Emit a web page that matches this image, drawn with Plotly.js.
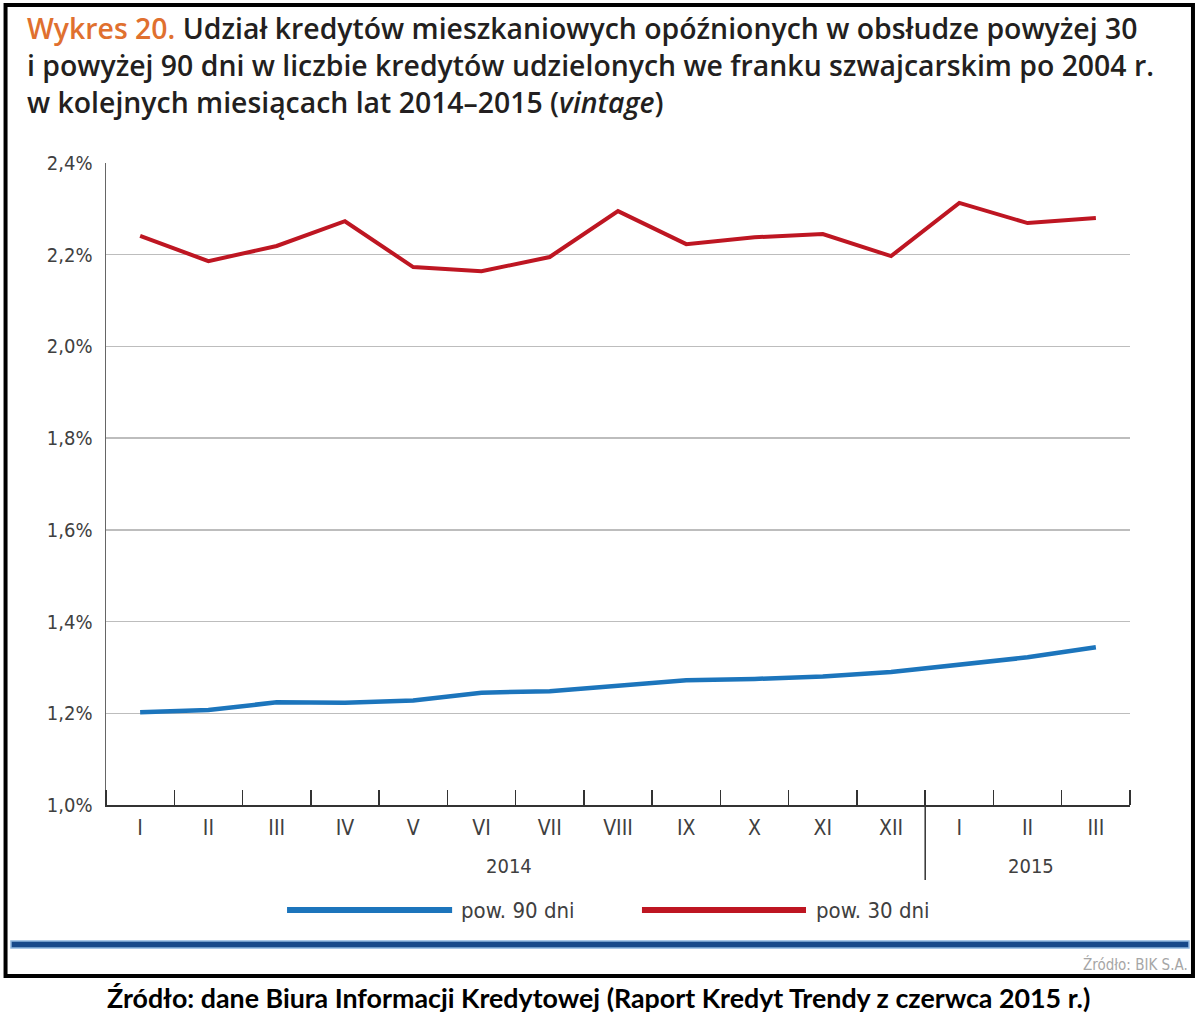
<!DOCTYPE html>
<html><head><meta charset="utf-8">
<script src="https://cdn.plot.ly/plotly-3.0.1.min.js"></script>
<style>html,body{margin:0;padding:0;background:#fff}</style>
</head><body><div id="chart" style="width:1200px;height:1014px"></div>
<script>
const months = ['I','II','III','IV','V','VI','VII','VIII','IX','X','XI','XII','I','II','III'];
const years = ['2014','2014','2014','2014','2014','2014','2014','2014','2014','2014','2014','2014','2015','2015','2015'];
const pow90 = [1.202,1.207,1.224,1.223,1.228,1.245,1.248,1.260,1.272,1.275,1.280,1.290,1.307,1.322,1.344];
const pow30 = [2.241,2.186,2.219,2.273,2.173,2.164,2.195,2.295,2.223,2.238,2.245,2.197,2.313,2.269,2.280];
const yTickVals = [1.0,1.2,1.4,1.6,1.8,2.0,2.2,2.4];
const yTickText = ['1,0%','1,2%','1,4%','1,6%','1,8%','2,0%','2,2%','2,4%'];
const seriesNames = ['pow. 90 dni','pow. 30 dni'];
const seriesColors = ['#1c75bc','#be1622'];

const idx = months.map((m,i)=>i);
const yearGroups = [...new Set(years)].map(y=>{
  const ii = idx.filter(i=>years[i]===y);
  return {year:y, first:ii[0], last:ii[ii.length-1]};
});

const NARROW = '"Liberation Sans Narrow","Arial Narrow","DejaVu Sans Condensed",sans-serif';

const traces = [
  {x: idx, y: pow90, name: seriesNames[0], type:'scatter', mode:'lines',
   line:{color:seriesColors[0], width:4.5, shape:'linear'}, hoverinfo:'y'},
  {x: idx, y: pow30, name: seriesNames[1], type:'scatter', mode:'lines',
   line:{color:seriesColors[1], width:4, shape:'linear'}, hoverinfo:'y'}
];

const shapes = [];
const annotations = [];

for (let g=1; g<yearGroups.length; g++){
  shapes.push({type:'line', xref:'x', yref:'paper', x0:yearGroups[g].first-0.5, x1:yearGroups[g].first-0.5,
    y0:-0.117, y1:0.0234, line:{color:'#333', width:1.5}});
}
const yearLabelX = [5.4, 13.05];
yearGroups.forEach((g,k)=>{
  annotations.push({xref:'x', yref:'paper', x:yearLabelX[k], y:-0.095, text:g.year, showarrow:false,
    xanchor:'center', yanchor:'middle', font:{family:NARROW, size:20, color:'#404040'}});
});
const legX = [[0.1768,0.338,0.345],[0.5234,0.6836,0.691]];
seriesNames.forEach((n,k)=>{
  shapes.push({type:'line', xref:'paper', yref:'paper', x0:legX[k][0], x1:legX[k][1], y0:-0.1636, y1:-0.1636,
    line:{color:seriesColors[k], width:6}});
  annotations.push({xref:'paper', yref:'paper', x:legX[k][2], y:-0.1636, text:n, showarrow:false,
    xanchor:'left', yanchor:'middle', font:{family:NARROW, size:22, color:'#404040'}});
});
shapes.push({type:'rect', xref:'paper', yref:'paper', x0:-0.0928, x1:1.0576, y0:-0.2227, y1:-0.2118,
  fillcolor:'#17498a', line:{color:'#8fb6de', width:1.5}});
shapes.push({type:'rect', xref:'paper', yref:'paper', x0:-0.0981, x1:1.0615, y0:-0.2664, y1:1.2461,
  fillcolor:'rgba(0,0,0,0)', line:{color:'#000', width:4}});
annotations.push({xref:'paper', yref:'paper', x:1.0586, y:-0.2477, text:'Źródło: BIK S.A.', showarrow:false,
  xanchor:'right', yanchor:'middle', font:{family:NARROW, size:15, color:'#a6a6a6'}});
annotations.push({xref:'paper', yref:'paper', x:0.4805, y:-0.3006,
  text:'<b>Źródło: dane Biura Informacji Kredytowej (Raport Kredyt Trendy z czerwca 2015 r.)</b>', showarrow:false,
  xanchor:'center', yanchor:'middle', font:{family:'Lato, "Open Sans", sans-serif', size:26.8, color:'#000'}});

const layout = {
  width:1200, height:1014,
  margin:{l:106, r:70, t:163, b:209, pad:0},
  paper_bgcolor:'#fff', plot_bgcolor:'#fff',
  showlegend:false,
  title:{
    text:'<span style="color:#e0702f">Wykres 20.</span> Udział kredytów mieszkaniowych opóźnionych w obsłudze powyżej 30<br>i powyżej 90 dni w liczbie kredytów udzielonych we franku szwajcarskim po 2004 r.<br>w kolejnych miesiącach lat 2014–2015 (<i>vintage</i>)',
    font:{family:'"Open Sans", Lato, sans-serif', size:28.4, weight:600, color:'#231f20'},
    x:27/1200, xref:'container', xanchor:'left',
    y:1-39/1014, yref:'container', yanchor:'top'
  },
  xaxis:{
    range:[-0.5, 14.5], tickvals:idx, ticktext:months, ticks:'',
    ticklabelstandoff:3,
    tickfont:{family:NARROW, size:21, color:'#404040'},
    showgrid:false, zeroline:false,
    showline:true, linecolor:'#333', linewidth:1.5,
    minor:{tick0:-0.5, dtick:1, ticks:'inside', ticklen:15, tickwidth:1.5, tickcolor:'#333', showgrid:false},
    fixedrange:true
  },
  yaxis:{
    range:[1.0, 2.4], tickvals:yTickVals, ticktext:yTickText,
    ticks:'outside', ticklen:8, tickcolor:'rgba(0,0,0,0)',
    tickfont:{family:NARROW, size:20, color:'#404040'},
    showgrid:true, gridcolor:'#bdbdbd', gridwidth:1.5,
    zeroline:false, showline:true, linecolor:'#666', linewidth:1.5,
    fixedrange:true
  },
  shapes, annotations
};
Plotly.newPlot('chart', traces, layout, {displayModeBar:false, staticPlot:true});
</script></body></html>
